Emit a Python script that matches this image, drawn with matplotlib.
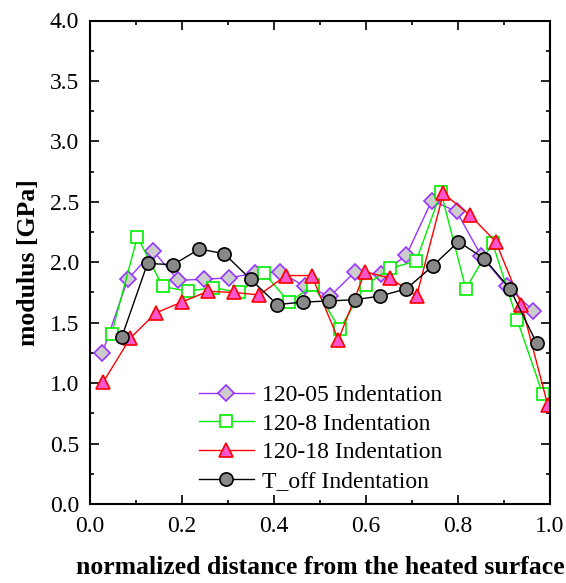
import numpy as np
import matplotlib.pyplot as plt
from matplotlib.ticker import MultipleLocator, FormatStrFormatter

plt.rcParams['font.family'] = ['Liberation Serif', 'DejaVu Serif']

# 120-05 Indentation
x_05 = [0.027, 0.082, 0.138, 0.192, 0.248, 0.303, 0.359, 0.413, 0.467, 0.522,
        0.576, 0.633, 0.688, 0.743, 0.797, 0.851, 0.906, 0.964]
y_05 = [1.25, 1.86, 2.09, 1.85, 1.86, 1.87, 1.91, 1.92, 1.80, 1.72,
        1.92, 1.90, 2.06, 2.51, 2.42, 2.05, 1.80, 1.60]

# 120-8 Indentation
x_8 = [0.047, 0.103, 0.158, 0.212, 0.268, 0.324, 0.378, 0.433, 0.485, 0.543,
       0.599, 0.653, 0.709, 0.763, 0.817, 0.875, 0.929, 0.984]
y_8 = [1.41, 2.21, 1.80, 1.76, 1.79, 1.75, 1.91, 1.67, 1.81, 1.45,
       1.81, 1.95, 2.01, 2.58, 1.78, 2.16, 1.52, 0.91]

# 120-18 Indentation
x_18 = [0.029, 0.087, 0.143, 0.199, 0.257, 0.313, 0.368, 0.426, 0.482, 0.540,
        0.598, 0.652, 0.710, 0.768, 0.826, 0.882, 0.938, 0.995]
y_18 = [1.01, 1.37, 1.58, 1.67, 1.76, 1.75, 1.73, 1.89, 1.89, 1.36,
        1.92, 1.87, 1.72, 2.57, 2.39, 2.17, 1.65, 0.82]

# T_off Indentation
x_off = [0.069, 0.125, 0.181, 0.238, 0.292, 0.349, 0.407, 0.462, 0.520,
         0.576, 0.630, 0.688, 0.745, 0.801, 0.857, 0.913, 0.971]
y_off = [1.38, 1.99, 1.98, 2.11, 2.07, 1.86, 1.65, 1.67, 1.68,
         1.69, 1.72, 1.78, 1.97, 2.17, 2.03, 1.78, 1.33]

fig = plt.figure(figsize=(5.66, 5.83), dpi=100)
ax = fig.add_axes([90/566, 1 - 504/583, 460/566, 483.5/583])

ax.plot(x_05, y_05, '-D', color='#9933ff', mfc='#cccccc', mec='#9933ff',
        ms=8.5, mew=1.2, lw=1, label='120-05 Indentation')
ax.plot(x_8, y_8, '-s', color='#00ee00', mfc='white', mec='#00ee00',
        ms=8, mew=1.2, lw=1, label='120-8 Indentation')
ax.plot(x_18, y_18, '-^', color='#ff0000', mfc='#ff55cc', mec='#ff0000',
        ms=10, mew=1.2, lw=1, label='120-18 Indentation')
ax.plot(x_off, y_off, '-o', color='black', mfc='#888888', mec='black',
        ms=9.5, mew=1.2, lw=1, label='T_off Indentation')

ax.set_xlim(0, 1.0)
ax.set_ylim(0, 4.0)
ax.xaxis.set_major_locator(MultipleLocator(0.2))
ax.xaxis.set_minor_locator(MultipleLocator(0.1))
ax.yaxis.set_major_locator(MultipleLocator(0.5))
ax.yaxis.set_minor_locator(MultipleLocator(0.25))
ax.xaxis.set_major_formatter(FormatStrFormatter('%.1f'))
ax.yaxis.set_major_formatter(FormatStrFormatter('%.1f'))
ax.tick_params(which='both', direction='in', top=True, right=True,
               labelsize=17, width=1.2)
ax.tick_params(which='major', length=6.5)
ax.tick_params(which='minor', length=3)
ax.tick_params(axis='x', pad=9)
ax.tick_params(axis='y', pad=8)
for s in ax.spines.values():
    s.set_linewidth(1.5)

ax.set_xlabel('normalized distance from the heated surface',
              fontsize=18.5, fontweight='bold', labelpad=13)
ax.set_ylabel('modulus [GPa]', fontsize=18.5, fontweight='bold', labelpad=7)

ax.legend(loc='lower left', bbox_to_anchor=(0.217, 0.0056), frameon=False,
          fontsize=17, handlelength=2.3, handletextpad=0.35, labelspacing=0.3,
          borderaxespad=0.0)

fig.savefig('out.png', dpi=100)
